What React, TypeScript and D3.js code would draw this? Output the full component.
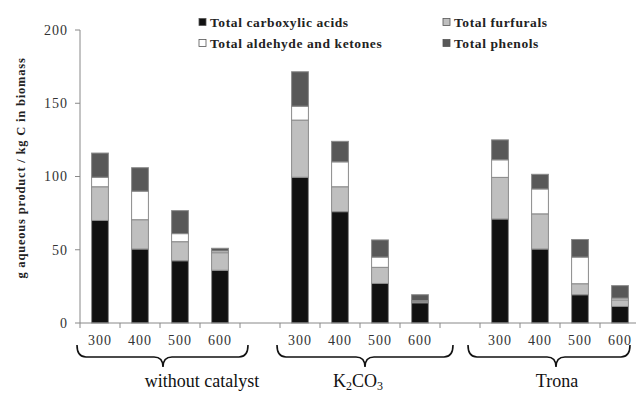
import React from "react";
import * as d3 from "d3";

const temps = ["300", "400", "500", "600"];
const groups = ["without catalyst", "K2CO3", "Trona"];
const seriesNames = [
  "Total carboxylic acids",
  "Total furfurals",
  "Total aldehyde and ketones",
  "Total phenols",
];
const seriesColors = ["#111111", "#bfbfbf", "#ffffff", "#585858"];

// values per group, per temperature (300, 400, 500, 600)
const carboxylic = [
  [70, 50.5, 42.5, 36],
  [99.5, 76, 27, 13.8],
  [71, 50.5, 19.3, 11.3],
];
const furfurals = [
  [23, 20, 13, 12],
  [39, 17, 11, 0.8],
  [28.4, 24, 7.5, 4.5],
];
const aldehydes = [
  [6.5, 19.5, 5.5, 1.2],
  [9.5, 17, 7, 0.7],
  [12, 17, 18.2, 1.2],
];
const phenols = [
  [16.5, 16, 15.7, 1.8],
  [23.5, 14, 11.7, 4],
  [13.6, 10, 12, 8.5],
];
const yTicks = [0, 50, 100, 150, 200];

const W = 636;
const H = 394;
const X0 = 80;
const X1 = 640;
const Y_TOP = 30;
const Y_BOT = 323;
const serif = "'Liberation Serif', 'Times New Roman', serif";

// slot keys: 4 temps per group, one empty slot between groups
const slots: string[] = [];
groups.forEach((g, gi) => {
  temps.forEach((t) => slots.push(`${g}|${t}`));
  if (gi < groups.length - 1) slots.push(`gap${gi}`);
});

const rows = groups.flatMap((g, gi) =>
  temps.map((t, ti) => ({
    key: `${g}|${t}`,
    temp: t,
    "Total carboxylic acids": carboxylic[gi][ti],
    "Total furfurals": furfurals[gi][ti],
    "Total aldehyde and ketones": aldehydes[gi][ti],
    "Total phenols": phenols[gi][ti],
  }))
);

// layout tweaks for brace ends / label centres (pixels)
const braceAdj = [
  { l: -3, r: 8, tip: 3, label: 42 },
  { l: -3, r: 13, tip: 5, label: -2 },
  { l: -12, r: -10, tip: -4, label: -3 },
];

export default function App() {
  const x = d3
    .scaleBand<string>()
    .domain(slots)
    .range([X0, X1])
    .paddingInner(0.58)
    .paddingOuter(0.29);
  const step = x.step();
  const y = d3.scaleLinear().domain([0, 200]).range([Y_BOT, Y_TOP]);
  const stack = d3.stack<any>().keys(seriesNames);
  const layers = stack(rows as any);

  const braceY0 = 345;
  const braceYm = 357;
  const braceTip = 367;
  const r = 9;

  return (
    <svg
      width={W}
      height={H}
      style={{ position: "absolute", left: 0, top: 0, background: "#fff" }}
    >
      {/* y axis */}
      <line x1={X0} x2={X0} y1={Y_TOP} y2={Y_BOT} stroke="#888" strokeWidth={1} />
      {yTicks.map((v) => (
        <g key={v}>
          <line x1={X0 - 5} x2={X0} y1={y(v)} y2={y(v)} stroke="#888" />
          <text
            x={68}
            y={y(v)}
            dy="0.35em"
            textAnchor="end"
            fontFamily={serif}
            fontSize={14}
            letterSpacing={1}
            fill="#333"
          >
            {v}
          </text>
        </g>
      ))}
      <text
        transform={`translate(21,168) rotate(-90)`}
        textAnchor="middle"
        dy="0.35em"
        fontFamily={serif}
        fontWeight="bold"
        fontSize={12.5}
        letterSpacing={0.8}
        fill="#222"
      >
        g aqueous product / kg C in biomass
      </text>

      {/* bars */}
      {layers.map((layer, li) => (
        <g key={seriesNames[li]}>
          {layer.map((d: any) => (
            <rect
              key={d.data.key}
              x={x(d.data.key)}
              y={y(d[1])}
              width={x.bandwidth()}
              height={Math.max(0, y(d[0]) - y(d[1]))}
              fill={seriesColors[li]}
              stroke="#8a8a8a"
              strokeWidth={1}
            />
          ))}
        </g>
      ))}

      {/* x axis */}
      <line x1={X0} x2={X1} y1={Y_BOT} y2={Y_BOT} stroke="#888" strokeWidth={1} />
      {d3.range(slots.length + 1).map((i) => (
        <line
          key={i}
          x1={X0 + i * step}
          x2={X0 + i * step}
          y1={Y_BOT}
          y2={Y_BOT + 5}
          stroke="#888"
        />
      ))}
      {rows.map((d) => (
        <text
          key={d.key}
          x={(x(d.key) ?? 0) + x.bandwidth() / 2}
          y={345}
          textAnchor="middle"
          fontFamily={serif}
          fontSize={14}
          letterSpacing={1}
          fill="#333"
        >
          {d.temp}
        </text>
      ))}

      {/* group braces and labels */}
      {groups.map((g, gi) => {
        const a = x(`${g}|${temps[0]}`)! - (step - x.bandwidth()) / 2;
        const b = x(`${g}|${temps[temps.length - 1]}`)! + x.bandwidth() + (step - x.bandwidth()) / 2;
        const adj = braceAdj[gi];
        const x0 = a + adj.l;
        const x1 = b + adj.r;
        const xm = (a + b) / 2 + adj.tip;
        const path = `M${x0},${braceY0} Q${x0},${braceYm} ${x0 + r},${braceYm} L${xm - r},${braceYm} Q${xm},${braceYm} ${xm},${braceTip} Q${xm},${braceYm} ${xm + r},${braceYm} L${x1 - r},${braceYm} Q${x1},${braceYm} ${x1},${braceY0}`;
        const lx = (a + b) / 2 + adj.label;
        return (
          <g key={g}>
            <path d={path} fill="none" stroke="#111" strokeWidth={1.6} />
            <text
              x={lx}
              y={387}
              textAnchor="middle"
              fontFamily={serif}
              fontSize={18}
              fill="#111"
            >
              {g === "K2CO3" ? (
                <>
                  K<tspan fontSize={12} dy={3}>2</tspan>
                  <tspan dy={-3}>CO</tspan>
                  <tspan fontSize={12} dy={3}>3</tspan>
                </>
              ) : (
                g
              )}
            </text>
          </g>
        );
      })}

      {/* legend */}
      {seriesNames.map((s, i) => {
        const order = [0, 2, 1, 3];
        const pos = order[i];
        const col = Math.floor(pos / 2);
        const row = pos % 2;
        const lx = col === 0 ? 199 : 443;
        const ly = row === 0 ? 22 : 43;
        return (
          <g key={s}>
            <rect
              x={lx}
              y={ly - 3.5}
              width={7}
              height={7}
              fill={seriesColors[i]}
              stroke="#555"
              strokeWidth={0.8}
            />
            <text
              x={lx + 11}
              y={ly}
              dy="0.35em"
              fontFamily={serif}
              fontWeight="bold"
              fontSize={13.5}
              letterSpacing={0.6}
              fill="#222"
            >
              {s}
            </text>
          </g>
        );
      })}
    </svg>
  );
}
